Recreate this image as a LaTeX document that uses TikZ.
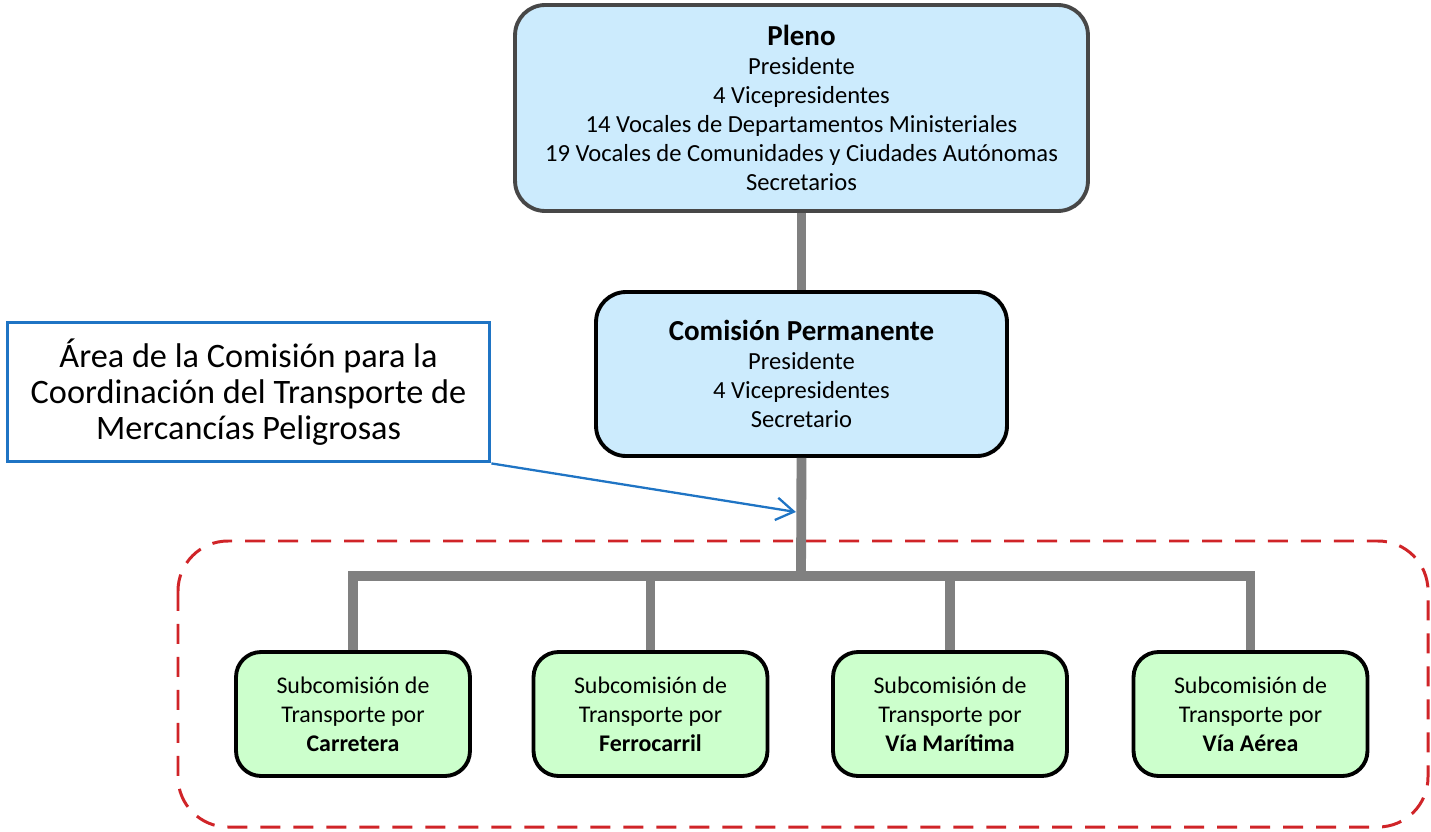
\documentclass[tikz,border=0pt]{standalone}
\usepackage{fontspec}
\setmainfont{Carlito}
\usepackage{tikz}
\usetikzlibrary{positioning, arrows.meta}
\definecolor{plenoblue}{HTML}{CCEBFD}
\definecolor{subgreen}{HTML}{CCFFCC}
\definecolor{linegray}{HTML}{808080}
\definecolor{areablue}{HTML}{1F74C4}
\definecolor{areared}{HTML}{D02428}
\newcommand{\blocktitle}[1]{{\fontsize{16.5}{16.5}\selectfont\textbf{#1}}}
\tikzset{
    block/.style={
        draw, line width = 2.2pt,
        rounded corners = 0.6cm,
        align = center,
        font = \fontsize{14}{16.5}\selectfont
    },
    subblock/.style={
        block, fill = subgreen,
        rounded corners = 0.5cm,
        minimum width = 4.68cm,
        minimum height = 2.48cm,
        font = \fontsize{13.6}{16.5}\selectfont
    },
    link/.style = {draw = linegray, line width = 5.6pt},
    line/.style = {-{Straight Barb[length=3.5mm,width=4.5mm]}, draw = areablue, line width = 1.3pt}
}
\begin{document}
\begin{tikzpicture}[x=0.02cm, y=-0.02cm]
                        \useasboundingbox (0,0) rectangle (1431,832);

                        % Area
                        \draw[areared, line width = 1.7pt, dash pattern = on 0.4cm off 0.26cm, rounded corners = 1cm]
                            (178,541) rectangle (1428,827);

                        % Blocks
                        \node[block, fill = plenoblue, draw = black!72,
                            minimum width = 11.46cm, minimum height = 4.12cm] (pleno) at (801.5,108)
                            {\blocktitle{Pleno}\\ Presidente\\ 4 Vicepresidentes\\ 14 Vocales de Departamentos Ministeriales\\
                             19 Vocales de Comunidades y Ciudades Autónomas\\ Secretarios};
                        \node[block, fill = plenoblue,
                            minimum width = 8.22cm, minimum height = 3.28cm] (comision) at (801.5,374)
                            {\blocktitle{Comisión Permanente}\\ Presidente\\ 4 Vicepresidentes\\ Secretario};

                        \node[subblock] (carretera) at (353,714) {Subcomisión de\\ Transporte por\\ \textbf{Carretera}};
                        \node[subblock] (ferrocarril) at (650.5,714) {Subcomisión de\\ Transporte por\\ \textbf{Ferrocarril}};
                        \node[subblock] (maritima) at (950,714) {Subcomisión de\\ Transporte por\\ \textbf{Vía Marítima}};
                        \node[subblock] (aerea) at (1250.5,714) {Subcomisión de\\ Transporte por\\ \textbf{Vía Aérea}};

                        % Lines
                        \coordinate (split) at (801,576);
                        \coordinate (hit) at (801,512);
                        \path[link] (pleno.south) -- (comision.north);
                        \path[link] (comision.south) -- (split);
                        \path[link] (carretera.north) -- (carretera.north |- split);
                        \path[link] (ferrocarril.north) -- (ferrocarril.north |- split);
                        \path[link] (maritima.north) -- (maritima.north |- split);
                        \path[link] (aerea.north) -- (aerea.north |- split);
                        \path[link, line cap=rect] (carretera.north |- split) -- (aerea.north |- split);

                        % Callout
                        \node[draw = areablue, fill = white, line width = 2.2pt,
                            minimum width = 9.64cm, minimum height = 2.78cm, align = center,
                            font = \fontsize{19.5}{20.5}\selectfont] (area) at (248.5,392)
                            {Área de la Comisión para la\\ Coordinación del Transporte de\\ Mercancías Peligrosas};
                        \draw[line] (area.south east) -- ([xshift=-2.9pt]hit);

\end{tikzpicture}
\end{document}
